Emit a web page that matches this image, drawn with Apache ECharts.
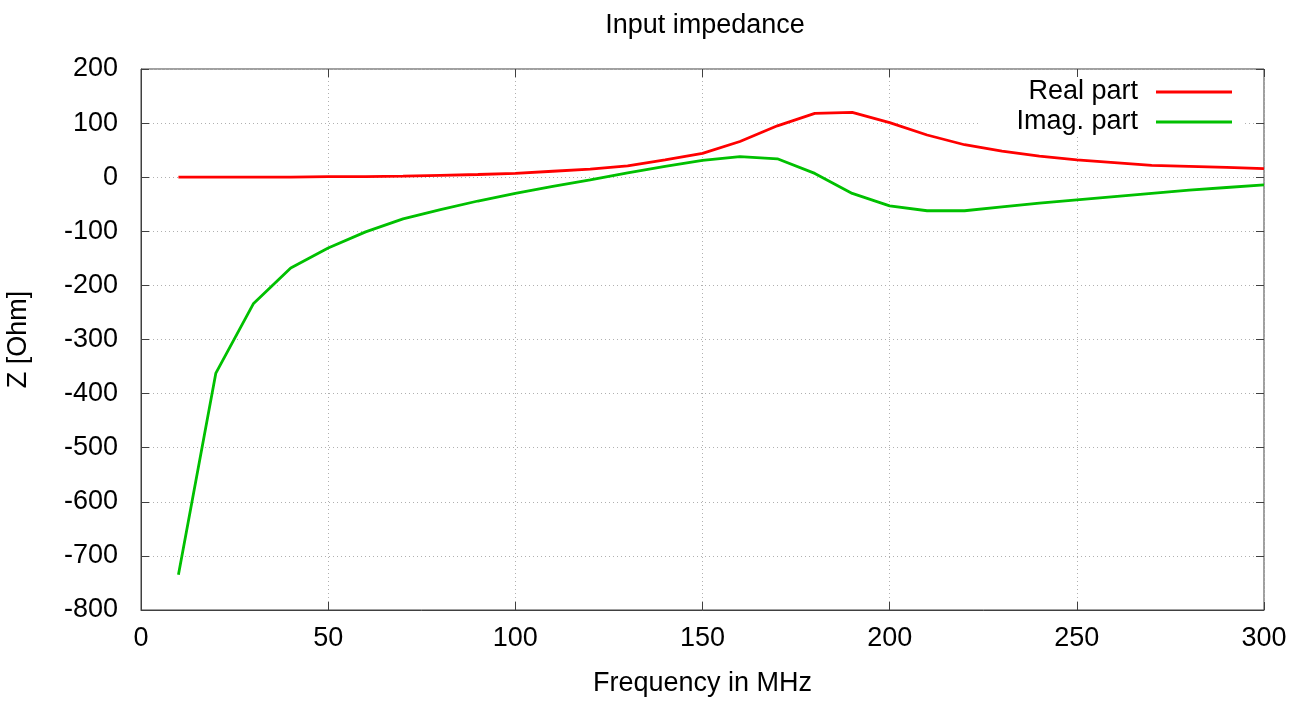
<!DOCTYPE html>
<html>
<head>
<meta charset="utf-8">
<script src="https://cdn.jsdelivr.net/npm/echarts@6/dist/echarts.min.js"></script>
<style>
html,body{margin:0;padding:0;background:#fff;}
#chart{width:1303px;height:704px;}
</style>
</head>
<body>
<div id="chart"></div>
<script>
const titleText = 'Input impedance';
const xName = 'Frequency in MHz';
const yName = 'Z [Ohm]';
const seriesNames = ['Real part', 'Imag. part'];
const freq = [10,20,30,40,50,60,70,80,90,100,110,120,130,140,150,160,170,180,190,200,210,220,230,240,250,260,270,280,290,300];
const realPart = [0,0,0,0,1,1,2,3.5,5,7,11,15,21,32,44,66,95,118,120,101,78,60,48,39,32,27,22,20,18,16];
const imagPart = [-735,-362,-234,-168,-131,-101,-77,-60,-44,-30,-17,-5,8,20,31,38,34,7,-30,-53,-62,-62,-55,-48,-42,-36,-30,-24,-19,-14];

const FONT = 'Liberation Sans, Arial, Helvetica, sans-serif';
const FS = 27;
const axisColor = '#404040';

const chart = echarts.init(document.getElementById('chart'), null, {renderer: 'canvas'});
const pairs = arr => freq.map((f, i) => [f, arr[i]]);

chart.setOption({
  animation: false,
  backgroundColor: '#fff',
  title: {
    text: titleText,
    left: 700,
    textAlign: 'center',
    top: 7,
    textStyle: {fontFamily: FONT, fontSize: FS, fontWeight: 'normal', color: '#000'}
  },
  grid: {
    left: 141, right: 39, top: 69, bottom: 94,
    containLabel: false,
    outerBoundsMode: 'none',
    show: true, borderColor: axisColor, borderWidth: 1, backgroundColor: 'transparent'
  },
  legend: {
    orient: 'vertical',
    align: 'right',
    right: 58,
    top: 72,
    padding: [5, 13, 0, 38],
    backgroundColor: '#fff',
    icon: 'rect',
    itemWidth: 76,
    itemHeight: 3,
    itemGap: 0,
    textStyle: {fontFamily: FONT, fontSize: FS, color: '#000', lineHeight: 30, padding: [0, 13, 0, 0]},
    data: seriesNames
  },
  xAxis: [{
    type: 'value', min: 0, max: 300, interval: 50, position: 'bottom',
    name: xName, nameLocation: 'middle', nameGap: 60,
    nameTextStyle: {fontFamily: FONT, fontSize: FS, color: '#000'},
    axisLine: {show: true, onZero: false, lineStyle: {color: axisColor}},
    axisTick: {show: true, inside: true, length: 8, lineStyle: {color: axisColor}},
    axisLabel: {fontFamily: FONT, fontSize: FS, color: '#000', margin: 15},
    splitLine: {show: true, lineStyle: {color: '#b0b0b0', type: [1, 3], width: 1}}
  }, {
    type: 'value', min: 0, max: 300, interval: 50, position: 'top', z: 10,
    axisLine: {show: false, onZero: false},
    axisTick: {show: true, inside: true, length: 8, lineStyle: {color: axisColor}},
    axisLabel: {show: false},
    splitLine: {show: false}
  }],
  yAxis: [{
    type: 'value', min: -800, max: 200, interval: 100, position: 'left',
    name: yName, nameLocation: 'middle', nameGap: 109,
    nameTextStyle: {fontFamily: FONT, fontSize: FS, color: '#000'},
    axisLine: {show: true, onZero: false, lineStyle: {color: axisColor}},
    axisTick: {show: true, inside: true, length: 8, lineStyle: {color: axisColor}},
    axisLabel: {fontFamily: FONT, fontSize: FS, color: '#000', margin: 23},
    splitLine: {show: true, lineStyle: {color: '#b0b0b0', type: [1, 3], width: 1}}
  }, {
    type: 'value', min: -800, max: 200, interval: 100, position: 'right', z: 10,
    axisLine: {show: false, onZero: false},
    axisTick: {show: true, inside: true, length: 8, lineStyle: {color: axisColor}},
    axisLabel: {show: false},
    splitLine: {show: false}
  }],
  series: [{
    name: seriesNames[0], type: 'line', data: pairs(realPart),
    showSymbol: false, symbol: 'none', color: '#ff0000',
    lineStyle: {color: '#ff0000', width: 2.8}
  }, {
    name: seriesNames[1], type: 'line', data: pairs(imagPart),
    showSymbol: false, symbol: 'none', color: '#00c000',
    lineStyle: {color: '#00c000', width: 2.8}
  }]
});
</script>
</body>
</html>
